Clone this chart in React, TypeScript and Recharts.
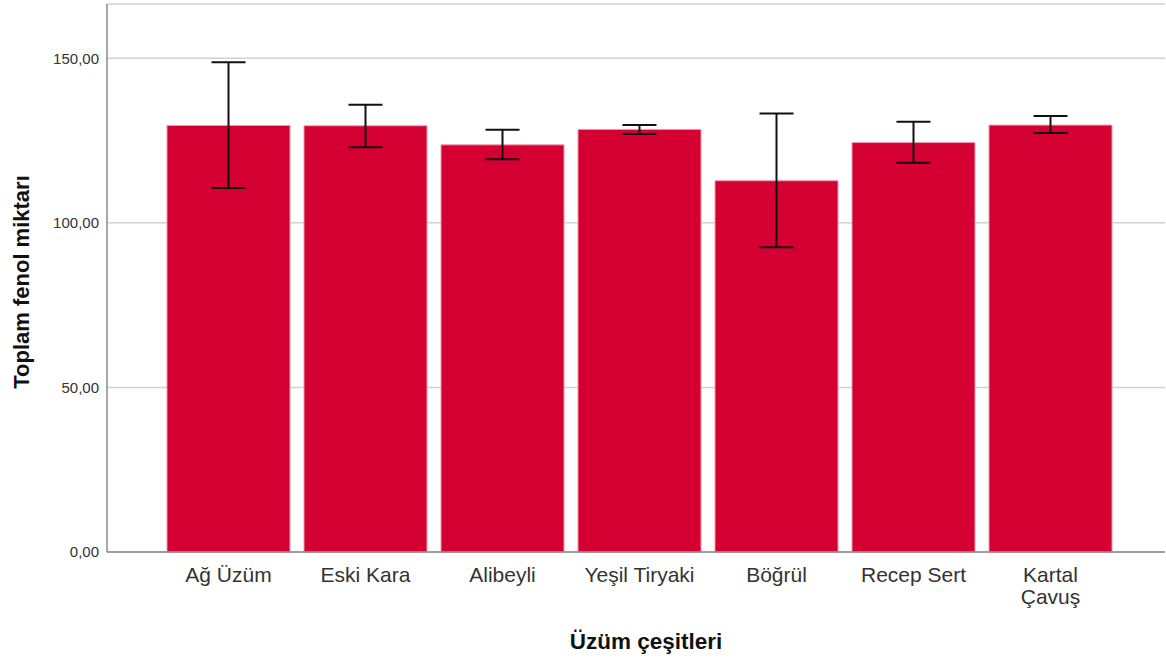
import { BarChart, Bar, XAxis, YAxis, CartesianGrid, ErrorBar } from "recharts";

const CATEGORIES = ["Ağ Üzüm", "Eski Kara", "Alibeyli", "Yeşil Tiryaki", "Böğrül", "Recep Sert", "Kartal Çavuş"];
const TICK_LINES = [["Ağ Üzüm"], ["Eski Kara"], ["Alibeyli"], ["Yeşil Tiryaki"], ["Böğrül"], ["Recep Sert"], ["Kartal", "Çavuş"]];
const MEANS = [129.6, 129.5, 123.7, 128.4, 112.8, 124.4, 129.7];
const LOWER = [110.6, 123.0, 119.3, 127.0, 92.6, 118.3, 127.3];
const UPPER = [148.8, 135.9, 128.3, 129.7, 133.2, 130.7, 132.5];
const Y_TICKS = [0, 50, 100, 150];

const FONT = "'Liberation Sans', Arial, sans-serif";

const data = CATEGORIES.map((name, i) => ({
  name,
  mean: MEANS[i],
  err: [MEANS[i] - LOWER[i], UPPER[i] - MEANS[i]],
}));

function CategoryTick({ x, y, payload }: any) {
  const lines = TICK_LINES[payload.index] ?? [payload.value];
  return (
    <text x={x} y={y + 22} textAnchor="middle" fill="#333" fontSize={21} fontFamily={FONT}>
      {lines.map((l: string, i: number) => (
        <tspan key={i} x={x} dy={i === 0 ? 0 : 21.5}>
          {l}
        </tspan>
      ))}
    </text>
  );
}

function YTitle({ viewBox }: any) {
  const cy = viewBox.y + viewBox.height / 2 + 4;
  return (
    <text
      x={29}
      y={cy}
      transform={`rotate(-90 29 ${cy})`}
      textAnchor="middle"
      fontSize={22}
      fontWeight="bold"
      fill="#111"
      fontFamily={FONT}
    >
      Toplam fenol miktarı
    </text>
  );
}

function XTitle({ viewBox }: any) {
  return (
    <text x={646} y={viewBox.y + 97} textAnchor="middle" fontSize={22.5} fontWeight="bold" fill="#111" fontFamily={FONT}>
      Üzüm çeşitleri
    </text>
  );
}

export default function App() {
  return (
    <div style={{ position: "absolute", left: 0, top: 0, background: "#fff" }}>
      <BarChart width={1166} height={662} data={data} margin={{ top: 4, right: 1, left: 0, bottom: 0 }}>
        <CartesianGrid vertical={false} stroke="#d2d2d2" strokeWidth={1.5} />
        <XAxis
          dataKey="name"
          height={110}
          padding={{ left: 53, right: 46 }}
          tickLine={false}
          axisLine={{ stroke: "#8a8a8a", strokeWidth: 1.5 }}
          tick={<CategoryTick />}
          interval={0}
          label={<XTitle />}
        />
        <YAxis
          width={107}
          domain={[0, 166.5]}
          ticks={Y_TICKS}
          tickLine={false}
          axisLine={{ stroke: "#8a8a8a", strokeWidth: 1.5 }}
          tick={{ fill: "#333", fontSize: 15, fontFamily: FONT }}
          tickFormatter={(v: number) => v.toFixed(2).replace(".", ",")}
          label={<YTitle />}
        />
        <Bar dataKey="mean" fill="#d50032" stroke="#ec9aab" strokeWidth={1} barSize={123} isAnimationActive={false}>
          <ErrorBar dataKey="err" width={17} stroke="#111" strokeWidth={2} direction="y" />
        </Bar>
      </BarChart>
    </div>
  );
}
